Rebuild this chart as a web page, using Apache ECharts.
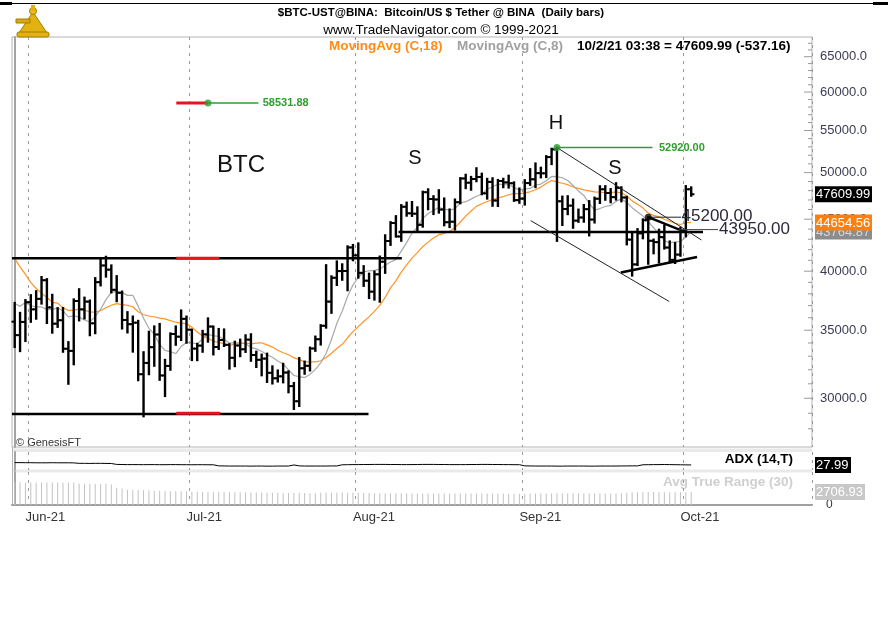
<!DOCTYPE html>
<html>
<head>
<meta charset="utf-8">
<script src="https://cdn.jsdelivr.net/npm/echarts@6/dist/echarts.min.js"></script>
<style>
  html, body { margin: 0; background: #fff; }
  #chart { width: 888px; height: 642px; }
</style>
</head>
<body>
<div id="chart"></div>
<script>
// daily bars, 29 May 2021 .. 2 Oct 2021
const opens = [
  35680, 34610, 35660,
  37290, 36690, 37570, 39190, 36850, 35520, 35800, 33560, 33400, 37390, 36690, 37340, 35550, 39020, 40520,
  40140, 38350, 38090, 35820, 35480, 35600, 31680, 32500, 33680, 34660, 31590, 32280, 34700, 34490, 35910,
  35040, 33570, 33800, 34670, 35290, 33690, 34230, 33860, 32880, 33810, 33520, 34260, 33090, 32730, 32820,
  31780, 31390, 31530, 31800, 30840, 29800, 32110, 32290, 33580, 34290, 35350, 37340, 39410, 40010, 40020, 42210,
  41460, 39850, 39150, 38190, 39720, 40870, 42830, 44610, 43270, 46280, 45600, 45560, 44430, 47830, 47100,
  47050, 45990, 44690, 44740, 46760, 49340, 48870, 49280, 49510, 47710, 48960, 46940, 49060, 48900, 48810, 46980,
  47140, 48830, 49250, 49940, 49920, 51790, 52700, 46860, 46050, 46400, 44850, 45170, 46030, 44960, 47130,
  48150, 47750, 47300, 48310, 47260, 42960, 40620, 43580, 44890, 42850, 42720, 43210, 42200, 41040, 41530,
  43820, 48150
];
const highs = [
  37230, 36400, 37470,
  37890, 38230, 39480, 39290, 37920, 36790, 36800, 34070, 37530, 38400, 37680, 37430, 39380, 41060, 41330,
  40530, 39560, 38200, 36460, 36100, 35750, 33300, 34880, 35300, 35500, 32730, 34750, 35300, 36600, 36100,
  35040, 33940, 34950, 35950, 35290, 35100, 35060, 33910, 34100, 34260, 34600, 34680, 33340, 33120, 33190,
  32250, 31950, 32440, 31890, 31060, 32860, 32600, 33650, 34500, 35400, 40550, 39540, 40900, 40630, 42320, 42450,
  42600, 40460, 39780, 39970, 41350, 43390, 44700, 45310, 46460, 46720, 46780, 46220, 47890, 48150, 47400,
  48050, 47160, 46000, 47050, 49380, 49760, 49520, 50500, 49880, 49300, 49370, 49180, 49310, 49650, 48910, 48240,
  49150, 50400, 51050, 50560, 51900, 52780, 52920, 47360, 47400, 47040, 45990, 46460, 46880, 47250, 48480,
  48490, 48170, 48820, 48370, 47340, 43640, 44000, 44980, 45200, 42970, 43940, 44350, 42790, 42630, 44130,
  48500, 48360
];
const lows = [
  33690, 33380, 34150,
  35670, 35920, 37170, 35570, 34800, 35260, 33330, 31000, 32400, 35780, 35940, 34600, 34760, 38730, 39510,
  38120, 37370, 35130, 34820, 33340, 31250, 28800, 31680, 32290, 31280, 30150, 32000, 33860, 34230, 34020,
  32710, 32700, 33330, 34100, 33130, 33540, 33770, 32080, 32260, 33000, 33320, 32660, 32200, 31600, 31130,
  31020, 31160, 31100, 30410, 29280, 29480, 31710, 31950, 33400, 33880, 35200, 36400, 38770, 39230, 38310, 41000,
  39420, 38690, 37640, 37510, 37330, 39850, 42450, 43260, 42850, 45350, 45330, 43770, 44240, 46020, 45520,
  45670, 44380, 44200, 43950, 46640, 48270, 48100, 49030, 47610, 47140, 46380, 46360, 48370, 48330, 46900, 46700,
  46510, 48630, 48380, 49460, 49500, 50970, 42840, 44410, 45510, 44130, 44730, 44740, 43370, 44660, 46680,
  47020, 46750, 47040, 46850, 42500, 39600, 40560, 43090, 40680, 41650, 40800, 42100, 40930, 40750, 41420,
  43290, 47450
];
const closes = [
  34610, 35660, 37290,
  36690, 37570, 39190, 36850, 35520, 35800, 33560, 33400, 37390, 36690, 37340, 35550, 39020, 40520, 40140,
  38350, 38090, 35820, 35480, 35600, 31680, 32500, 33680, 34660, 31590, 32280, 34700, 34490, 35910, 35040,
  33570, 33800, 34670, 35290, 33690, 34230, 33860, 32880, 33810, 33520, 34260, 33090, 32730, 32820, 31780,
  31390, 31530, 31800, 30840, 29800, 32110, 32290, 33580, 34290, 35350, 37340, 39410, 40010, 40020, 42210, 41460,
  39850, 39150, 38190, 39720, 40870, 42830, 44610, 43270, 46280, 45600, 45560, 44430, 47830, 47100, 47050,
  45990, 44690, 44740, 46760, 49340, 48870, 49280, 49510, 47710, 48960, 46940, 49060, 48900, 48810, 46980, 47140,
  48830, 49250, 49940, 49920, 51790, 52700, 46860, 46050, 46400, 44850, 45170, 46030, 44960, 47130, 48150,
  47750, 47300, 48310, 47260, 42970, 40620, 43580, 44890, 42850, 42720, 43210, 42200, 41040, 41530, 43820,
  48150, 47610
];
// closes 11..28 May, only feed the moving averages
const priorCloses = [56700, 49150, 49720, 49880, 46760, 46430, 43540, 42900, 36970, 40600,
  37300, 37540, 34770, 38800, 38320, 39240, 38440, 35680];

const adx = [
  41, 41, 40.5, 40.5, 40, 40, 40, 40.5, 40, 40, 40, 39.5,
  37, 37, 36.5, 37, 37, 36.5, 36,
  31, 30.5, 30, 30, 30, 29.5, 30, 30, 29.5, 29.5, 30, 30, 29.5, 29.5, 29, 29.5, 29.5, 29, 29,
  23, 22.5, 22, 22, 22, 22, 21.5, 22, 22, 21.5, 21.5, 22, 22, 22,
  28,
  23, 22, 22, 22, 22, 22, 22.5, 22.5,
  29, 29.5, 30, 30, 30.5, 30.5, 31, 31, 31, 30.5, 30.5, 30, 30, 30, 30.5, 31, 31, 31, 30.5, 30.5,
  30, 30, 30, 30, 30.5, 30.5, 31, 31, 30.5, 30.5, 30, 30, 29.5, 29.5,
  23, 22.5, 22, 22, 22, 22, 21.5, 21.5, 22, 22, 22, 22, 21.5, 21.5, 22, 22, 22, 22, 22.5, 22.5, 23, 23,
  29, 29.5, 30, 30, 30.5, 30, 29.5, 29, 28.5, 27.99
];
const atr = [
  4750, 4760, 4720, 4700, 4690, 4720, 4700, 4680, 4650, 4660, 4700, 4720,
  4450, 4420, 4400, 4380, 4400, 4420, 4300,
  3600, 3500,
  3200, 3150, 3200, 3150, 3100, 3000, 3000, 2950, 2900, 2900, 2850, 2850,
  2780, 2750, 2720, 2750, 2730, 2700, 2700, 2680, 2690, 2650, 2650, 2620, 2600, 2600, 2580, 2560, 2550, 2520, 2500,
  2520, 2550, 2500, 2480, 2470, 2560, 2560, 2570, 2560, 2590, 2570, 2560,
  2540, 2520, 2500, 2480, 2470, 2480, 2470, 2460, 2450, 2440,
  2430, 2420, 2430, 2420, 2400, 2400, 2390, 2400, 2410, 2430,
  2420, 2410, 2400, 2400, 2390, 2380, 2390, 2380, 2370, 2360,
  2360, 2370, 2380, 2390, 2400, 2390, 2380, 2480, 2470, 2460,
  2450, 2440, 2440, 2430, 2420, 2420, 2410, 2420, 2430, 2440, 2560,
  2650, 2680, 2690, 2720, 2700, 2690, 2680, 2660, 2650, 2660, 2690, 2706.93
];

const monthLabels = ['Jun-21', 'Jul-21', 'Aug-21', 'Sep-21', 'Oct-21'];
const priceTicks = [30000, 35000, 40000, 45000, 50000, 55000, 60000, 65000];
const priceTags = [43764.87, 44654.56, 47609.99];
const priceTagBg = ['#8c8c8c', '#ff7f0e', '#000000'];
const priceTagFg = ['#d6d6d6', '#ffffff', '#ffffff'];

// drawn studies: [dayIndex, price]
const trendLines = [
  { pts: [[-0.5, 41200], [72.1, 41200]], color: '#000', width: 2.5 },
  { pts: [[-0.5, 28950], [65.9, 28950]], color: '#000', width: 2.5 },
  { pts: [[30.1, 41200], [38.1, 41200]], color: '#e8141c', width: 3 },
  { pts: [[30.1, 29000], [38.3, 29000]], color: '#e8141c', width: 3 },
  { pts: [[71.5, 43700], [128.2, 43700]], color: '#000', width: 2.5 },
  { pts: [[30.1, 58531.88], [36.0, 58531.88]], color: '#e8141c', width: 3 },
  { pts: [[36.0, 58531.88], [45.4, 58531.88]], color: '#2e9e2e', width: 1.5 },
  { pts: [[101, 52920], [118.8, 52920]], color: '#2e9e2e', width: 1.5 },
  { pts: [[101, 52920], [127.9, 42930]], color: '#222', width: 1 },
  { pts: [[96.1, 44850], [121.9, 37350]], color: '#222', width: 1 },
  { pts: [[118, 45200], [124.1, 45200]], color: '#222', width: 1 },
  { pts: [[118, 45200], [123.8, 43950]], color: '#000', width: 2.5 },
  { pts: [[124, 43950], [131, 43950]], color: '#444', width: 1 },
  { pts: [[112.9, 39880], [127.1, 41300]], color: '#000', width: 2.5 }
];
const dots = [[36.0, 58531.88, '#2e9e2e'], [101, 52920, '#2e9e2e'], [118, 45200, '#000']];
const studyLabels = [
  [46.2, 58531.88, '58531.88', 'green'],
  [120.0, 52920, '52920.00', 'green'],
  [124.2, 45200, '45200.00', 'big'],
  [131.2, 43950, '43950.00', 'big']
];

const LN = Math.log;
const slots = 149;
const dates = [];
for (let i = 0; i < slots; i++) {
  dates.push(new Date(Date.UTC(2021, 4, 29) + i * 86400000).toISOString().slice(0, 10));
}
const monthStart = dates.map(d => d.endsWith('-01'));
const labelAt = {};
let m = 0;
for (let i = 1; i < slots; i++) {
  if (monthStart[i]) labelAt[i - 1] = monthLabels[m++];
}

const allCloses = priorCloses.concat(closes);
function movingAvg(n) {
  return closes.map((c, i) => {
    let s = 0;
    for (let k = 0; k < n; k++) s += allCloses[i + priorCloses.length - k];
    return LN(s / n);
  });
}

function drawBar(params, api) {
  const i = api.value(0);
  const o = api.coord([i, api.value(1)]);
  const h = api.coord([i, api.value(2)]);
  const l = api.coord([i, api.value(3)]);
  const c = api.coord([i, api.value(4)]);
  const x = h[0];
  const st = { stroke: '#000', lineWidth: 2.4 };
  const tk = { stroke: '#000', lineWidth: 2 };
  return {
    type: 'group', children: [
      { type: 'line', shape: { x1: x, y1: h[1] - 1, x2: x, y2: l[1] + 1 }, style: st },
      { type: 'line', shape: { x1: x - 3.2, y1: o[1], x2: x, y2: o[1] }, style: tk },
      { type: 'line', shape: { x1: x, y1: c[1], x2: x + 3.2, y2: c[1] }, style: tk }
    ]
  };
}

function drawPriceAxis(params, api) {
  const v = api.value(2);
  const p = api.coord([api.value(0), api.value(1)]);
  const major = priceTicks.indexOf(v) >= 0;
  const kids = [{ type: 'line', shape: { x1: p[0] - (major ? 8 : 4), y1: p[1], x2: p[0], y2: p[1] },
    style: { stroke: '#9a9a9a', lineWidth: 1 } }];
  if (major) {
    kids.push({ type: 'text', x: p[0] + 8, y: p[1],
      style: { text: v.toFixed(1), fill: '#3b3b55', font: '13px Arial', verticalAlign: 'middle' } });
  }
  return { type: 'group', children: kids };
}

function tagRenderer(texts, bgs, fgs) {
  return function (params, api) {
    const k = api.value(2);
    const p = api.coord([api.value(0), api.value(1)]);
    const txt = texts[k];
    return {
      type: 'group', children: [
        { type: 'rect', shape: { x: p[0] + 3, y: p[1] - 8, width: txt.length * 7 + 1, height: 16 }, style: { fill: bgs[k] } },
        { type: 'text', x: p[0] + 4, y: p[1] + 0.5,
          style: { text: txt, fill: fgs[k], font: '13px Arial', verticalAlign: 'middle' } }
      ]
    };
  };
}

function drawStudyLabel(params, api) {
  const p = api.coord([api.value(0), api.value(1)]);
  const s = studyLabels[params.dataIndex];
  const green = s[3] === 'green';
  return {
    type: 'text', x: p[0], y: p[1] + (green ? 0 : -0.5),
    style: {
      text: s[2], fill: green ? '#2e9e2e' : '#2a2a3c',
      font: green ? 'bold 11px Arial' : '17px Arial', verticalAlign: 'middle'
    }
  };
}

const dashed = { color: '#9a9a9a', type: [3, 5], width: 1 };
function catAxis(grid, withLabels) {
  return {
    type: 'category', gridIndex: grid, data: dates, boundaryGap: true,
    axisLine: { show: withLabels, lineStyle: { color: '#a0a0a0', width: 2 } },
    axisTick: { show: false },
    axisLabel: withLabels ? {
      show: true, interval: (i) => labelAt[i] !== undefined,
      formatter: (v, i) => labelAt[i] || '', align: 'left',
      color: '#333', fontSize: 13, fontFamily: 'Arial', margin: 6, hideOverlap: false
    } : { show: false },
    splitLine: { show: true, interval: (i) => monthStart[i], lineStyle: dashed }
  };
}
function valAxis(grid) {
  return { type: 'value', gridIndex: grid, min: -0.5, max: slots - 0.5, show: false };
}

const font = 'Arial, "Liberation Sans", sans-serif';
const series = [
  {
    type: 'line', xAxisIndex: 0, yAxisIndex: 0, data: movingAvg(18), showSymbol: false, symbol: 'none',
    lineStyle: { color: '#ff9326', width: 1.2 }, z: 3, silent: true
  },
  {
    type: 'line', xAxisIndex: 0, yAxisIndex: 0, data: movingAvg(8), showSymbol: false, symbol: 'none',
    lineStyle: { color: '#a8a8a8', width: 1.2 }, z: 3, silent: true
  },
  {
    type: 'custom', xAxisIndex: 0, yAxisIndex: 0, renderItem: drawBar, z: 5,
    encode: { x: 0, y: [1, 2, 3, 4] },
    data: closes.map((c, i) => [i, LN(opens[i]), LN(highs[i]), LN(lows[i]), LN(c)])
  }
];
trendLines.forEach(t => series.push({
  type: 'line', xAxisIndex: 3, yAxisIndex: 0, symbol: 'none', showSymbol: false, silent: true, z: 6,
  data: t.pts.map(p => [p[0], LN(p[1])]), lineStyle: { color: t.color, width: t.width }
}));
series.push({
  type: 'scatter', xAxisIndex: 3, yAxisIndex: 0, symbolSize: 7, z: 7, silent: true,
  data: dots.map(d => ({ value: [d[0], LN(d[1])], itemStyle: { color: d[2] } }))
});
series.push({
  type: 'custom', xAxisIndex: 3, yAxisIndex: 0, renderItem: drawStudyLabel, z: 8, clip: false,
  data: studyLabels.map(s => [s[0], LN(s[1])])
});
const axisMarks = [];
for (let v = 28000; v <= 67000; v += 1000) axisMarks.push([slots - 0.5, LN(v), v]);
series.push({
  type: 'custom', xAxisIndex: 3, yAxisIndex: 0, renderItem: drawPriceAxis, clip: false, z: 9, data: axisMarks
});
series.push({
  type: 'custom', xAxisIndex: 3, yAxisIndex: 0, clip: false, z: 10,
  renderItem: tagRenderer(priceTags.map(v => v.toFixed(2)), priceTagBg, priceTagFg),
  data: priceTags.map((v, k) => [slots - 0.5, LN(v), k])
});
series.push({
  type: 'line', xAxisIndex: 1, yAxisIndex: 1, data: adx, symbol: 'none', showSymbol: false,
  lineStyle: { color: '#000', width: 1 }, silent: true
});
series.push({
  type: 'bar', xAxisIndex: 2, yAxisIndex: 2, data: atr, barWidth: 1,
  itemStyle: { color: '#c2c2c2' }, silent: true
});
series.push({
  type: 'custom', xAxisIndex: 4, yAxisIndex: 1, clip: false, z: 10,
  renderItem: tagRenderer(['27.99'], ['#000'], ['#fff']),
  data: [[slots - 0.5, adx[adx.length - 1], 0]]
});
series.push({
  type: 'custom', xAxisIndex: 5, yAxisIndex: 2, clip: false, z: 10,
  renderItem: tagRenderer(['2706.93'], ['#c8c8c8'], ['#ffffff']),
  data: [[slots - 0.5, atr[atr.length - 1], 0]]
});

const rightAxis = { show: true, lineStyle: { color: '#a4a4a4', width: 2 } };
const option = {
  animation: false,
  backgroundColor: '#fff',
  textStyle: { fontFamily: font },
  grid: [
    { left: 12, top: 37, width: 800, height: 410, show: true, borderColor: '#b4b4b4', borderWidth: 1 },
    { left: 12, top: 452, width: 800, height: 18 },
    { left: 12, top: 472, width: 800, height: 33 }
  ],
  xAxis: [catAxis(0, false), catAxis(1, false), catAxis(2, true), valAxis(0), valAxis(1), valAxis(2)],
  yAxis: [
    { type: 'value', gridIndex: 0, position: 'right', min: 10.19871, max: 11.12673,
      axisLine: rightAxis, axisTick: { show: false }, axisLabel: { show: false }, splitLine: { show: false } },
    { type: 'value', gridIndex: 1, position: 'right', min: 0, max: 100,
      axisLine: rightAxis, axisTick: { show: false }, axisLabel: { show: false }, splitLine: { show: false } },
    { type: 'value', gridIndex: 2, position: 'right', min: 0, max: 6900, interval: 6900,
      axisLine: rightAxis, axisTick: { show: false }, splitLine: { show: false },
      axisLabel: { show: true, formatter: v => (v === 0 ? '0' : ''), color: '#333', fontSize: 12, margin: 14 } }
  ],
  graphic: [
    { type: 'line', shape: { x1: 0, y1: 3.5, x2: 888, y2: 3.5 }, style: { stroke: '#000', lineWidth: 1 } },
    { type: 'rect', shape: { x: 0, y: 2, width: 12, height: 3 }, style: { fill: '#000' } },
    { type: 'rect', shape: { x: 873, y: 2, width: 15, height: 3 }, style: { fill: '#000' } },
    // logo
    { type: 'polygon', shape: { points: [[33, 12], [19, 33], [47, 33]] }, style: { fill: '#e2b310', stroke: '#a37c00', lineWidth: 1 } },
    { type: 'rect', shape: { x: 16, y: 19, width: 14, height: 4 }, style: { fill: '#d9a90c', stroke: '#a37c00' } },
    { type: 'circle', shape: { cx: 33, cy: 11, r: 3.5 }, style: { fill: '#e8c020', stroke: '#a37c00' } },
    { type: 'rect', shape: { x: 17, y: 32, width: 32, height: 5, r: 2 }, style: { fill: '#e2b310', stroke: '#a37c00' } },
    { type: 'rect', shape: { x: 31, y: 5, width: 4, height: 6 }, style: { fill: '#e2b310' } },
    // header
    { type: 'text', x: 441, y: 13, style: { text: '$BTC-UST@BINA:  Bitcoin/US $ Tether @ BINA  (Daily bars)',
      font: 'bold 11.5px Arial', fill: '#000', align: 'center', verticalAlign: 'middle' } },
    { type: 'text', x: 441, y: 30, style: { text: 'www.TradeNavigator.com \u00a9 1999-2021',
      font: '13.5px Arial', fill: '#000', align: 'center', verticalAlign: 'middle' } },
    { type: 'text', x: 329, y: 46, style: { text: 'MovingAvg (C,18)', font: 'bold 13.5px Arial', fill: '#ff8c1a', verticalAlign: 'middle' } },
    { type: 'text', x: 457, y: 46, style: { text: 'MovingAvg (C,8)', font: 'bold 13.5px Arial', fill: '#a0a0a0', verticalAlign: 'middle' } },
    { type: 'text', x: 577, y: 46, style: { text: '10/2/21 03:38 = 47609.99 (-537.16)', font: 'bold 13.5px Arial', fill: '#000', verticalAlign: 'middle' } },
    // chart notes
    { type: 'text', x: 241, y: 165, style: { text: 'BTC', font: '24px Arial', fill: '#111', align: 'center', verticalAlign: 'middle' } },
    { type: 'text', x: 415, y: 158, style: { text: 'S', font: '20px Arial', fill: '#111', align: 'center', verticalAlign: 'middle' } },
    { type: 'text', x: 556, y: 123, style: { text: 'H', font: '20px Arial', fill: '#111', align: 'center', verticalAlign: 'middle' } },
    { type: 'text', x: 615, y: 168, style: { text: 'S', font: '20px Arial', fill: '#111', align: 'center', verticalAlign: 'middle' } },
    { type: 'text', x: 16, y: 443, style: { text: '\u00a9 GenesisFT', font: '11px Arial', fill: '#333', verticalAlign: 'middle' } },
    // lower panels
    { type: 'rect', shape: { x: 12, y: 448.5, width: 800, height: 3.5 }, style: { fill: '#e9e9e9' } },
    { type: 'rect', shape: { x: 12, y: 469.5, width: 800, height: 3 }, style: { fill: '#e9e9e9' } },
    { type: 'line', shape: { x1: 12.5, y1: 447, x2: 12.5, y2: 505 }, style: { stroke: '#b4b4b4', lineWidth: 1 } },
    { type: 'text', x: 793, y: 459, style: { text: 'ADX (14,T)', font: 'bold 13.5px Arial', fill: '#000', align: 'right', verticalAlign: 'middle' } },
    { type: 'text', x: 793, y: 482, style: { text: 'Avg True Range (30)', font: 'bold 13.5px Arial', fill: '#cfcfcf', align: 'right', verticalAlign: 'middle' } }
  ],
  series: series
};

const chart = echarts.init(document.getElementById('chart'));
chart.setOption(option);
</script>
</body>
</html>
